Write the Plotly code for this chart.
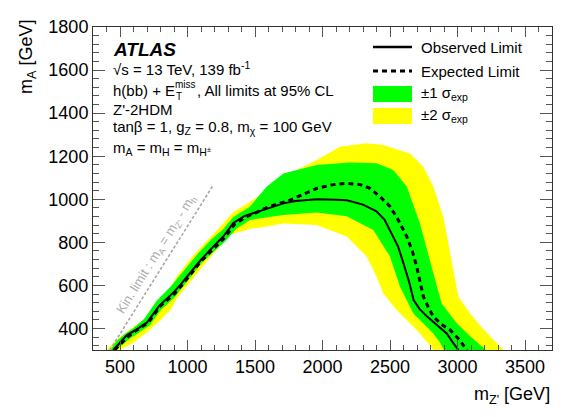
import plotly.graph_objects as go

# ---------------- data ----------------
obs_x = [450, 500, 550, 620, 700, 790, 900, 950, 1090, 1190, 1263, 1340, 1420, 1490, 1600, 1710, 1800,
         1960, 2100, 2180, 2300, 2400, 2460, 2500, 2560, 2600, 2640, 2675, 2720, 2775, 2850, 2920, 2960, 3006]
obs_y = [300, 333, 368, 395, 428, 505, 570, 605, 712, 780, 826, 890, 922, 936, 960, 981, 992,
         1000, 998, 995, 975, 944, 905, 857, 780, 702, 620, 532, 490, 455, 415, 377, 340, 300]

exp_x = [460, 510, 560, 630, 710, 800, 910, 960, 1100, 1200, 1275, 1350, 1430, 1500, 1600, 1760, 1860,
         1960, 2080, 2180, 2280, 2352, 2420, 2500, 2560, 2624, 2665, 2698, 2725, 2747, 2790, 2821, 2880,
         2945, 3010, 3070]
exp_y = [300, 333, 362, 395, 428, 505, 565, 602, 712, 775, 822, 885, 917, 936, 965, 996, 1025,
         1051, 1068, 1074, 1068, 1051, 1015, 967, 905, 827, 760, 687, 610, 548, 490, 455, 420,
         393, 350, 300]

# +-1 sigma band: upper (outer) contour and lower (inner) contour
g1_up_x = [430, 470, 530, 600, 680, 770, 880, 980, 1080, 1180, 1260, 1340, 1463, 1586, 1710, 1957,
           2203, 2401, 2524, 2624, 2722, 2808, 2882, 2994, 3100, 3210]
g1_up_y = [300, 338, 372, 402, 445, 528, 598, 675, 750, 815, 858, 918, 966, 1058, 1120, 1159,
           1171, 1167, 1136, 1059, 888, 687, 517, 424, 360, 300]
g1_lo_x = [470, 520, 580, 650, 720, 800, 900, 1000, 1100, 1200, 1280, 1360, 1463, 1710, 1957,
           2179, 2376, 2500, 2574, 2673, 2821, 2870, 2900]
g1_lo_y = [300, 327, 356, 385, 415, 485, 542, 620, 702, 760, 805, 862, 904, 927, 938,
           921, 857, 734, 594, 470, 377, 335, 300]

# +-2 sigma band
g2_up_x = [400, 473, 596, 670, 757, 843, 919, 1043, 1216, 1339, 1463, 1561, 1710, 1957, 2129, 2327,
           2450, 2648, 2747, 2821, 2895, 2970, 3006, 3093, 3200, 3340]
g2_up_y = [300, 348, 405, 438, 498, 555, 640, 740, 855, 940, 989, 1027, 1105, 1182, 1244, 1260,
           1252, 1213, 1151, 1059, 919, 671, 548, 470, 390, 300]
g2_lo_x = [497, 596, 695, 793, 880, 919, 1043, 1167, 1314, 1463, 1586, 1710, 1957, 2179, 2327,
           2401, 2450, 2549, 2698, 2790, 2820]
g2_lo_y = [300, 333, 380, 435, 490, 538, 635, 730, 835, 862, 873, 888, 880, 827, 734,
           640, 563, 486, 393, 325, 300]

# kinematic limit m_A = m_Z' - m_h
mh = 125
kin_x = [425, 1190]
kin_y = [x - mh for x in kin_x]

x_range = [300, 3700]
y_range = [300, 1800]

# ---------------- figure ----------------
FONT = "Liberation Sans, Arial, Helvetica, sans-serif"
fig = go.Figure()

fig.add_trace(go.Scatter(x=g2_up_x + g2_lo_x[::-1], y=g2_up_y + g2_lo_y[::-1],
                         fill="toself", fillcolor="#ffff00", line=dict(width=0),
                         mode="lines", hoverinfo="skip", showlegend=False))
fig.add_trace(go.Scatter(x=g1_up_x + g1_lo_x[::-1], y=g1_up_y + g1_lo_y[::-1],
                         fill="toself", fillcolor="#00ff00", line=dict(width=0),
                         mode="lines", hoverinfo="skip", showlegend=False))
fig.add_trace(go.Scatter(x=kin_x, y=kin_y, mode="lines",
                         line=dict(color="#a8a8a8", width=1.6, dash="3px,2px"),
                         hoverinfo="skip", showlegend=False))
fig.add_trace(go.Scatter(x=exp_x, y=exp_y, mode="lines",
                         line=dict(color="black", width=3, dash="5px,4px"),
                         hoverinfo="skip", showlegend=False))
fig.add_trace(go.Scatter(x=obs_x, y=obs_y, mode="lines",
                         line=dict(color="black", width=2),
                         hoverinfo="skip", showlegend=False))

# page body adds an 8px offset; positions below are measured in screen pixels
OFF = 8
W, H = 581, 417
PL, PT, PW, PH = 93, 27, 459, 323          # plot area on screen
L, T = PL - OFF, PT - OFF
R, B = W - L - PW, H - T - PH


def px(xp):
    return (xp - PL) / PW


def py(yp):
    return (PT + PH - yp) / PH


axis_common = dict(showgrid=False, zeroline=False, showline=True, linecolor="#333",
                   linewidth=1, mirror="allticks", ticks="inside", tickcolor="#555",
                   tickfont=dict(family=FONT, size=18, color="black"))

fig.update_xaxes(range=x_range, dtick=500, tick0=0, ticklen=10, tickwidth=1,
                 minor=dict(dtick=100, ticklen=5, ticks="inside", tickcolor="#555"),
                 **axis_common)
fig.update_yaxes(range=y_range, dtick=200, tick0=0, ticklen=12, tickwidth=1,
                 minor=dict(dtick=40, ticklen=6, ticks="inside", tickcolor="#555"),
                 **axis_common)

ann = []
# axis titles
ann.append(dict(text="m<sub>Z'</sub> [GeV]", xref="paper", yref="paper", x=1.0, y=py(395),
                xanchor="right", yanchor="middle", showarrow=False,
                font=dict(family=FONT, size=18, color="black")))
ann.append(dict(text="m<sub>A</sub> [GeV]", xref="paper", yref="paper", x=px(28), y=py(18),
                xanchor="center", yanchor="top", textangle=-90, showarrow=False,
                font=dict(family=FONT, size=18, color="black")))

# ATLAS block
ann.append(dict(text="<b><i>ATLAS</i></b>", xref="paper", yref="paper", x=px(111), y=py(49),
                xanchor="left", yanchor="middle", showarrow=False,
                font=dict(family=FONT, size=19, color="black")))
info = [
    ("√s = 13 TeV, 139 fb<sup>-1</sup>", 111, 69),
    ("h(bb) + E", 111, 91),
    (", All limits at 95% CL", 195, 91),
    ("Z'-2HDM", 111, 109),
    ("tanβ = 1, g<sub>Z</sub> = 0.8, m<sub>χ</sub> = 100 GeV", 111, 128),
    ("m<sub>A</sub> = m<sub>H</sub> = m<sub>H<sup>±</sup></sub>", 111, 148),
]
for t, xx, yy in info:
    ann.append(dict(text=t, xref="paper", yref="paper", x=px(xx), y=py(yy),
                    xanchor="left", yanchor="middle", showarrow=False,
                    font=dict(family=FONT, size=15, color="black")))
ann.append(dict(text="miss", xref="paper", yref="paper", x=px(173), y=py(85),
                xanchor="left", yanchor="middle", showarrow=False,
                font=dict(family=FONT, size=10, color="black")))
ann.append(dict(text="T", xref="paper", yref="paper", x=px(174), y=py(97),
                xanchor="left", yanchor="middle", showarrow=False,
                font=dict(family=FONT, size=10, color="black")))

# kinematic limit label
ann.append(dict(text="Kin. limit : m<sub>A</sub> = m<sub>Z'</sub> - m<sub>h</sub>",
                xref="paper", yref="paper", x=px(156.5), y=py(254.5),
                xanchor="center", yanchor="middle", textangle=-58, showarrow=False,
                font=dict(family=FONT, size=13, color="#ababab")))

# legend (manual)
leg = [("Observed Limit", 47), ("Expected Limit", 71),
       ("±1 σ<sub>exp</sub>", 94), ("±2 σ<sub>exp</sub>", 116)]
for t, yy in leg:
    ann.append(dict(text=t, xref="paper", yref="paper", x=px(419), y=py(yy),
                    xanchor="left", yanchor="middle", showarrow=False,
                    font=dict(family=FONT, size=15, color="black")))

shapes = [
    dict(type="line", xref="paper", yref="paper", x0=px(373), x1=px(412), y0=py(47), y1=py(47),
         line=dict(color="black", width=2.5)),
    dict(type="line", xref="paper", yref="paper", x0=px(373), x1=px(412), y0=py(71), y1=py(71),
         line=dict(color="black", width=3, dash="5px,4px")),
    dict(type="rect", xref="paper", yref="paper", x0=px(373), x1=px(412), y0=py(86), y1=py(102),
         fillcolor="#00ff00", line=dict(width=0)),
    dict(type="rect", xref="paper", yref="paper", x0=px(373), x1=px(412), y0=py(108), y1=py(124),
         fillcolor="#ffff00", line=dict(width=0)),
]

fig.update_layout(width=W, height=H, margin=dict(l=L, r=R, t=T, b=B, autoexpand=False),
                  paper_bgcolor="white", plot_bgcolor="white",
                  annotations=ann, shapes=shapes, showlegend=False,
                  font=dict(family=FONT, color="black"))

fig.write_html("out.html")
